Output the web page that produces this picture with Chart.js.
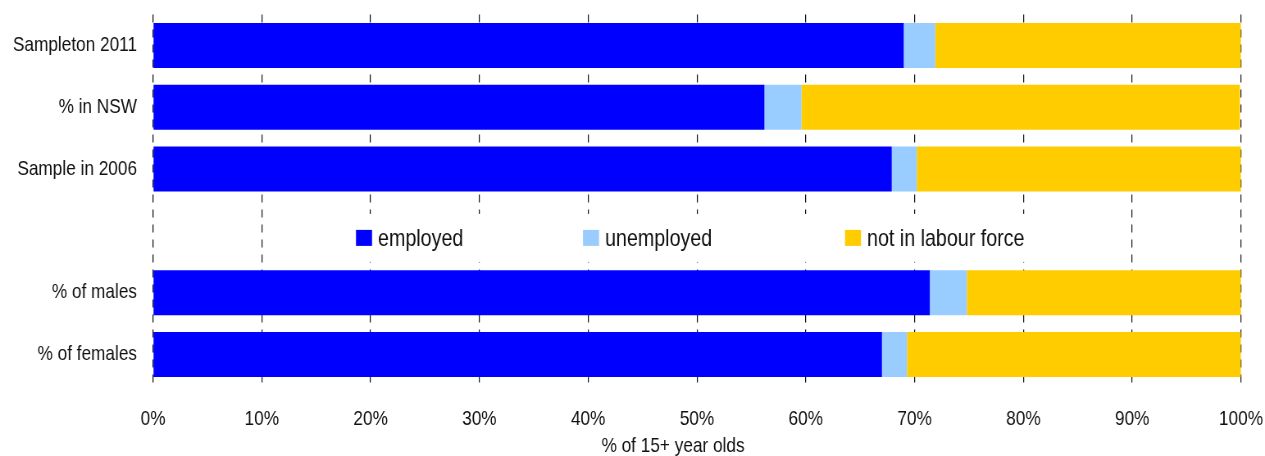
<!DOCTYPE html>
<html>
<head>
<meta charset="utf-8">
<script src="https://cdn.jsdelivr.net/npm/chart.js@4"></script>
<style>
  html, body { margin: 0; padding: 0; background: #fff; overflow: hidden; }
  /* the original uses a narrow Helvetica; squeeze the whole chart horizontally instead */
  #wrap { width: 1543px; height: 456px; transform: scaleX(0.81983); transform-origin: 0 0; }
</style>
</head>
<body>
<div id="wrap"><canvas id="lfChart"></canvas></div>
<script>
const categories = ['Sampleton 2011', '% in NSW', 'Sample in 2006', '', '% of males', '% of females'];
const employed = [69.0, 56.2, 67.9, null, 71.4, 67.0];
const unemployed = [2.9, 3.4, 2.3, null, 3.4, 2.3];
const notInLabourForce = [28.1, 40.3, 29.8, null, 25.2, 30.7];
const xTicks = [0, 10, 20, 30, 40, 50, 60, 70, 80, 90, 100];
const axisTitle = '% of 15+ year olds';

const K = 0.81983;
const FONT = "'Liberation Sans', Arial, sans-serif";

// legend sits in the empty row between the two groups, title drawn by hand
const extras = {
  id: 'extras',
  afterDraw(chart) {
    const ctx = chart.ctx;
    const y = chart.scales.y.getPixelForValue(3) + 7;
    const starts = [356, 583, 845];
    ctx.save();
    ctx.fillStyle = '#fff';
    ctx.fillRect(345 / K, y - 24, 700 / K, 48);
    ctx.font = '24px ' + FONT;
    ctx.textBaseline = 'middle';
    chart.data.datasets.forEach((ds, i) => {
      const x = starts[i] / K;
      ctx.fillStyle = ds.backgroundColor;
      ctx.fillRect(x, y - 8, 16 / K, 16);
      ctx.fillStyle = '#111';
      ctx.fillText(ds.label, x + 22 / K, y + 1);
    });
    ctx.font = '21px ' + FONT;
    ctx.textAlign = 'center';
    ctx.fillText(axisTitle, 673 / K, 446);
    ctx.restore();
  }
};

const data = {
  labels: categories,
  datasets: [
    { label: 'employed', data: employed, backgroundColor: '#0000ff' },
    { label: 'unemployed', data: unemployed, backgroundColor: '#99ccff' },
    { label: 'not in labour force', data: notInLabourForce, backgroundColor: '#ffcc00' }
  ]
};

const config = {
  type: 'bar',
  data: data,
  plugins: [extras],
  options: {
    indexAxis: 'y',
    responsive: true,
    maintainAspectRatio: false,
    animation: false,
    layout: { padding: { top: 14.6, right: 29.3, left: 0, bottom: 0 } },
    datasets: { bar: { categoryPercentage: 1, barPercentage: 0.728, borderWidth: 0 } },
    plugins: { legend: { display: false }, tooltip: { enabled: false } },
    scales: {
      x: {
        stacked: true,
        min: 0,
        max: 100,
        afterBuildTicks: (s) => { s.ticks = xTicks.map(v => ({ value: v })); },
        afterFit: (s) => { s.height = 70.6; s.paddingLeft = 0; s.paddingRight = 0; },
        grid: { color: '#111', lineWidth: 1 / K, drawTicks: false },
        border: { display: false, dash: [8, 7] },
        ticks: {
          color: '#111',
          padding: 21,
          font: { family: FONT, size: 21 },
          callback: (v) => v + '%'
        }
      },
      y: {
        stacked: true,
        afterFit: (s) => { s.width = 153 / K; s.paddingTop = 0; s.paddingBottom = 0; },
        grid: { display: false, drawTicks: false },
        border: { display: false },
        ticks: {
          color: '#111',
          padding: 16 / K,
          font: { family: FONT, size: 21 }
        }
      }
    }
  }
};

const myChart = new Chart(document.getElementById('lfChart'), config);
</script>
</body>
</html>
